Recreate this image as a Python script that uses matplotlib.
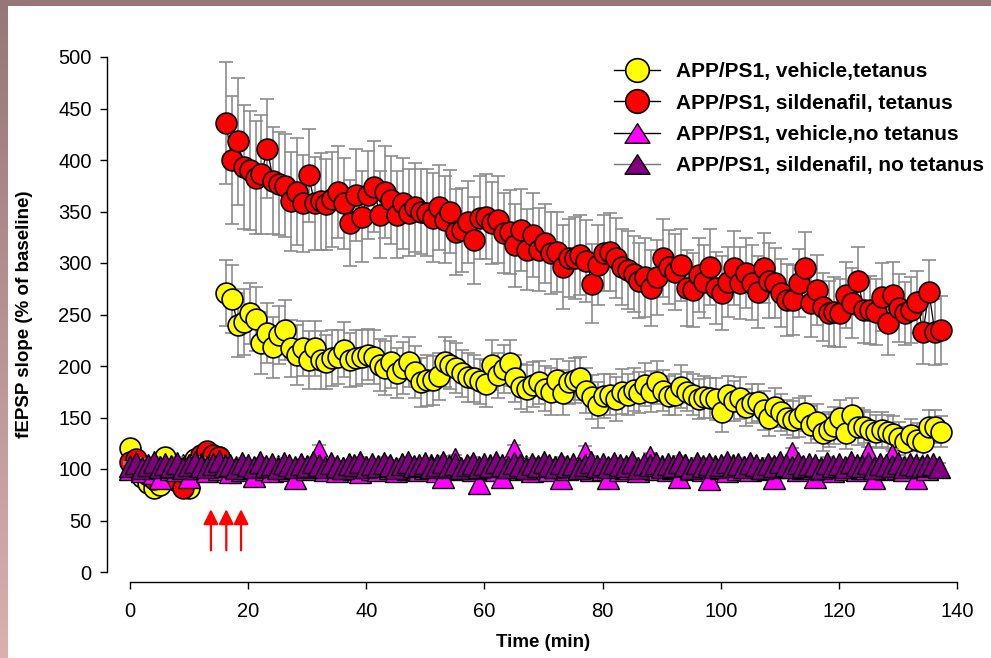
import numpy as np
import matplotlib
matplotlib.use('Agg')
import matplotlib.pyplot as plt
from matplotlib.lines import Line2D
from matplotlib.path import Path

plt.rcParams['font.family'] = ['Liberation Sans', 'DejaVu Sans']

# ---------------- data ----------------
labels = ['APP/PS1, vehicle,tetanus', 'APP/PS1, sildenafil, tetanus',
          'APP/PS1, vehicle,no tetanus', 'APP/PS1, sildenafil, no tetanus']

base_t = list(range(16))
yel_base = [120, 104, 92, 86, 82, 84, 112, 98, 95, 88, 82, 110, 104, 100, 108, 112]
yel_base_err = [6, 5, 6, 5, 6, 5, 6, 5, 6, 5, 6, 5, 6, 5, 6, 5]
red_base = [107, 110, 98, 94, 90, 99, 96, 94, 88, 82, 92, 105, 114, 117, 114, 112]
red_base_err = [5, 6, 5, 6, 5, 6, 5, 6, 5, 6, 5, 6, 5, 6, 5, 6]

post_start = 16.25
yel_post = [271, 265, 240, 243, 251, 246, 222, 232, 218, 230,
            235, 217, 211, 217, 206, 217, 206, 204, 208, 209,
            216, 206, 208, 209, 211, 209, 201, 198, 204, 193,
            198, 204, 194, 184, 186, 186, 190, 204, 201, 198,
            193, 189, 188, 185, 183, 201, 191, 197, 203, 188,
            180, 178, 182, 184, 178, 175, 186, 174, 184, 186,
            188, 176, 170, 162, 171, 172, 168, 175, 172, 177,
            174, 182, 175, 184, 176, 171, 172, 180, 175, 172,
            168, 170, 169, 168, 155, 172, 166, 169, 160, 164,
            165, 157, 150, 160, 155, 150, 148, 150, 154, 143,
            146, 135, 138, 142, 150, 135, 152, 141, 141, 138,
            136, 138, 136, 134, 130, 126, 133, 128, 126, 141,
            141, 136]
yel_post_err = [32, 33, 31, 32, 30, 31, 30, 29, 30, 28,
                29, 28, 29, 27, 28, 27, 28, 26, 27, 26,
                27, 26, 27, 26, 25, 26, 25, 26, 25, 24,
                25, 24, 25, 24, 25, 24, 23, 24, 23, 24,
                23, 24, 23, 22, 23, 24, 22, 23, 22, 23,
                22, 23, 22, 21, 22, 23, 21, 22, 21, 22,
                21, 22, 21, 22, 21, 20, 21, 22, 20, 21,
                20, 21, 20, 21, 20, 19, 20, 21, 19, 20,
                19, 20, 19, 20, 19, 18, 19, 20, 18, 19,
                18, 19, 18, 19, 18, 17, 18, 19, 17, 18,
                17, 18, 17, 18, 17, 16, 17, 18, 16, 17,
                16, 17, 16, 17, 16, 15, 16, 17, 15, 16,
                16, 15]
red_post = [436, 400, 418, 393, 390, 383, 386, 411, 380, 377,
            375, 360, 369, 358, 385, 358, 360, 357, 362, 369,
            358, 339, 366, 345, 366, 374, 347, 369, 361, 347,
            358, 349, 354, 350, 349, 344, 354, 342, 350, 330,
            332, 340, 322, 344, 345, 339, 342, 329, 330, 317,
            332, 313, 327, 313, 319, 310, 311, 296, 305, 305,
            308, 302, 280, 298, 310, 311, 305, 296, 293, 289,
            283, 286, 276, 286, 305, 296, 291, 298, 276, 274,
            288, 282, 296, 276, 271, 282, 295, 281, 290, 281,
            272, 295, 283, 281, 271, 264, 264, 281, 295, 261,
            274, 257, 251, 252, 251, 269, 261, 283, 254, 254,
            252, 267, 242, 269, 256, 251, 254, 262, 233, 272,
            233, 235]
red_post_err = [59, 62, 62, 60, 58, 55, 58, 48, 52, 50,
                50, 48, 52, 47, 45, 45, 47, 44, 46, 45,
                44, 42, 45, 44, 43, 44, 42, 45, 43, 42,
                44, 42, 43, 41, 42, 43, 41, 42, 40, 42,
                41, 40, 42, 40, 41, 40, 42, 39, 41, 40,
                40, 39, 41, 40, 38, 40, 39, 41, 38, 40,
                39, 40, 38, 39, 37, 38, 39, 37, 38, 37,
                36, 38, 37, 36, 38, 36, 37, 35, 37, 36,
                36, 35, 37, 35, 36, 34, 36, 35, 34, 36,
                35, 34, 36, 34, 33, 35, 34, 33, 35, 33,
                34, 33, 32, 34, 33, 32, 34, 33, 32, 33,
                32, 33, 31, 32, 33, 31, 32, 30, 31, 31,
                32, 33]

mag_vals = [100, 104, 98, 102, 96, 91, 103, 100, 99, 104,
            92, 101, 105, 98, 103, 100, 104, 97, 102, 99,
            101, 93, 104, 100, 98, 103, 101, 99, 91, 104,
            100, 102, 117, 99, 103, 98, 101, 104, 100, 97,
            102, 100, 99, 104, 101, 98, 103, 100, 102, 99,
            101, 104, 98, 92, 102, 110, 100, 103, 99, 86,
            101, 104, 99, 92, 102, 118, 100, 103, 98, 101,
            104, 99, 102, 91, 100, 103, 101, 116, 99, 102,
            100, 91, 103, 99, 101, 104, 98, 102, 112, 100,
            103, 99, 101, 92, 104, 100, 102, 99, 90, 103,
            101, 98, 104, 100, 102, 99, 103, 101, 100, 91,
            102, 104, 116, 99, 101, 103, 92, 100, 104, 98,
            102, 100, 103, 99, 101, 116, 91, 104, 100, 114,
            101, 99, 103, 91, 102, 100]
mag_err = [5, 4, 6, 5, 4, 5, 6, 4, 5, 5,
           4, 5, 6, 4, 5, 5, 4, 6, 5, 4,
           5, 6, 4, 5, 5, 4, 6, 5, 4, 5,
           5, 4, 6, 5, 4, 5, 6, 4, 5, 5,
           4, 5, 6, 4, 5, 5, 4, 6, 5, 4,
           5, 6, 4, 5, 5, 4, 6, 5, 4, 5,
           5, 4, 6, 5, 4, 5, 6, 4, 5, 5,
           4, 5, 6, 4, 5, 5, 4, 6, 5, 4,
           5, 6, 4, 5, 5, 4, 6, 5, 4, 5,
           5, 4, 6, 5, 4, 5, 6, 4, 5, 5,
           4, 5, 6, 4, 5, 5, 4, 6, 5, 4,
           5, 6, 4, 5, 5, 4, 6, 5, 4, 5,
           5, 4, 6, 5, 4, 5, 6, 4, 5, 5,
           4, 5, 6, 4, 5, 5]

pur_vals = [103, 106, 101, 104, 107, 102, 105, 103, 106, 101,
            104, 107, 103, 102, 105, 108, 103, 104, 101, 106,
            104, 102, 107, 103, 105, 101, 106, 104, 102, 105,
            103, 107, 104, 102, 106, 103, 101, 105, 104, 107,
            102, 105, 103, 106, 104, 101, 105, 107, 103, 104,
            106, 102, 104, 107, 103, 105, 101, 104, 106, 102,
            105, 103, 107, 104, 102, 106, 104, 101, 105, 103,
            107, 104, 102, 106, 103, 105, 101, 104, 107, 103,
            105, 102, 106, 104, 103, 107, 101, 105, 104, 106,
            102, 105, 103, 107, 104, 101, 106, 103, 105, 102,
            104, 107, 103, 105, 102, 106, 104, 101, 105, 103,
            107, 104, 102, 106, 103, 105, 104, 101, 106, 103,
            105, 102, 107, 104, 103, 106, 101, 105, 104, 103,
            106, 102, 105, 104, 103, 104, 105, 102]
pur_err = [4, 5, 4, 6, 5, 4, 5, 4, 6, 5,
           4, 5, 4, 6, 5, 4, 5, 4, 6, 5,
           4, 5, 4, 6, 5, 4, 5, 4, 6, 5,
           4, 5, 4, 6, 5, 4, 5, 4, 6, 5,
           4, 5, 4, 6, 5, 4, 5, 4, 6, 5,
           4, 5, 4, 6, 5, 4, 5, 4, 6, 5,
           4, 5, 4, 6, 5, 4, 5, 4, 6, 5,
           4, 5, 4, 6, 5, 4, 5, 4, 6, 5,
           4, 5, 4, 6, 5, 4, 5, 4, 6, 5,
           4, 5, 4, 6, 5, 4, 5, 4, 6, 5,
           4, 5, 4, 6, 5, 4, 5, 4, 6, 5,
           4, 5, 4, 6, 5, 4, 5, 4, 6, 5,
           4, 5, 4, 6, 5, 4, 5, 4, 6, 5,
           4, 5, 4, 6, 5, 4, 5, 4]

arrow_t = [13.7, 16.3, 18.8]
arrow_tail, arrow_head = 21, 61

x_ticks = [0, 20, 40, 60, 80, 100, 120, 140]
y_ticks = [0, 50, 100, 150, 200, 250, 300, 350, 400, 450, 500]

colors = ['#FFFF00', '#FF0000', '#FF00FF', '#800080']

# ---------------- figure ----------------
W, H = 991, 658
fig = plt.figure(figsize=(W / 100, H / 100), dpi=100)
fig.patch.set_facecolor('white')

# slide-like frame (top band + left gradient)
band = fig.add_axes([0, 0, 8 / W, 1])
grad = np.linspace(0, 1, 256).reshape(-1, 1)
c_top = np.array([0x96, 0x76, 0x78]) / 255
c_bot = np.array([0xDA, 0xB0, 0xB0]) / 255
img = c_top[None, None, :] * (1 - grad[:, :, None]) + c_bot[None, None, :] * grad[:, :, None]
band.imshow(img, aspect='auto', extent=[0, 1, 0, 1], origin='upper')
band.axis('off')
top = fig.add_axes([0, 1 - 6 / H, 1, 6 / H])
top.set_facecolor('#967678')
top.set_xticks([]); top.set_yticks([])
for s in top.spines.values():
    s.set_visible(False)

ax = fig.add_axes([130 / W, (H - 572) / H, (957 - 130) / W, (572 - 57) / H])
ax.set_xlim(0, 140)
ax.set_ylim(0, 500)

ecol = '#8C8C8C'
ekw = dict(fmt='none', ecolor=ecol, elinewidth=1.2, capsize=4.8, capthick=1.2, clip_on=False)

post_t_y = np.arange(len(yel_post)) + post_start
post_t_r = np.arange(len(red_post)) + post_start
mag_t = np.arange(len(mag_vals))
pur_t = np.arange(len(pur_vals))

z = 3
# yellow
for tt, vv, ee in [(base_t, yel_base, yel_base_err), (post_t_y, yel_post, yel_post_err)]:
    ax.errorbar(tt, vv, yerr=ee, zorder=z, **ekw)
    ax.plot(tt, vv, '-', color='black', lw=0.9, marker='o', ms=15, mfc=colors[0], mec='black',
            mew=1.2, zorder=z + 1, clip_on=False)
z += 2
# red
for tt, vv, ee in [(base_t, red_base, red_base_err), (post_t_r, red_post, red_post_err)]:
    ax.errorbar(tt, vv, yerr=ee, zorder=z, **ekw)
    ax.plot(tt, vv, '-', color='black', lw=0.9, marker='o', ms=15, mfc=colors[1], mec='black',
            mew=1.2, zorder=z + 1, clip_on=False)
z += 2
# magenta
ax.errorbar(mag_t, mag_vals, yerr=mag_err, zorder=z, **ekw)
ax.plot(mag_t, mag_vals, '-', color='black', lw=0.9, marker='^', ms=16, mfc=colors[2], mec='black',
        mew=1.0, zorder=z + 1, clip_on=False)
z += 2
# purple
ax.errorbar(pur_t, pur_vals, yerr=pur_err, zorder=z, **ekw)
ax.plot(pur_t, pur_vals, '-', color='#555555', lw=0.9, marker='^', ms=16, mfc=colors[3], mec='black',
        mew=1.0, zorder=z + 1, clip_on=False)

# tetanus arrows
for ta in arrow_t:
    ax.annotate('', xy=(ta, arrow_head), xytext=(ta, arrow_tail),
                arrowprops=dict(arrowstyle='-|>,head_length=0.9,head_width=0.45', color='red',
                                lw=1.6, shrinkA=0, shrinkB=0), zorder=20)

# axes styling
for s in ['top', 'right']:
    ax.spines[s].set_visible(False)
ax.spines['left'].set_position(('outward', 16.5))
ax.spines['bottom'].set_position(('outward', 7.3))
ax.spines['left'].set_bounds(0, 500)
ax.spines['bottom'].set_bounds(0, 140)
for s in ['left', 'bottom']:
    ax.spines[s].set_linewidth(1.0)
ax.set_xticks(x_ticks)
ax.set_yticks(y_ticks)
ax.tick_params(axis='both', direction='out', length=5, width=1.0, labelsize=14.5)
ax.tick_params(axis='x', pad=9)
ax.tick_params(axis='y', pad=6)
ax.set_xlabel('Time (min)', fontsize=13.5, fontweight='bold', labelpad=10)
ax.set_ylabel('fEPSP slope (% of baseline)', fontsize=13.5, fontweight='bold', labelpad=18)

# legend
tri_leg = Path([(0, 0.78), (-1, -0.78), (1, -0.78), (0, 0.78)], closed=True)
handles = [
    Line2D([], [], color='black', lw=1, marker='o', ms=17, mfc=colors[0], mec='black', mew=1.2),
    Line2D([], [], color='black', lw=1, marker='o', ms=17, mfc=colors[1], mec='black', mew=1.2),
    Line2D([], [], color='black', lw=1, marker=tri_leg, ms=18, mfc=colors[2], mec='black', mew=1.0),
    Line2D([], [], color='#777777', lw=1, marker=tri_leg, ms=18, mfc=colors[3], mec='black', mew=1.0),
]
leg = ax.legend(handles, labels, loc='upper left', bbox_to_anchor=(614 / W, 1 - 62 / H),
                bbox_transform=fig.transFigure, frameon=False, borderpad=0, borderaxespad=0,
                handlelength=2.2, handletextpad=0.8, labelspacing=0.6,
                prop={'weight': 'bold', 'size': 15})
leg.set_zorder(30)

fig.savefig('out.png', dpi=100, facecolor='white')
